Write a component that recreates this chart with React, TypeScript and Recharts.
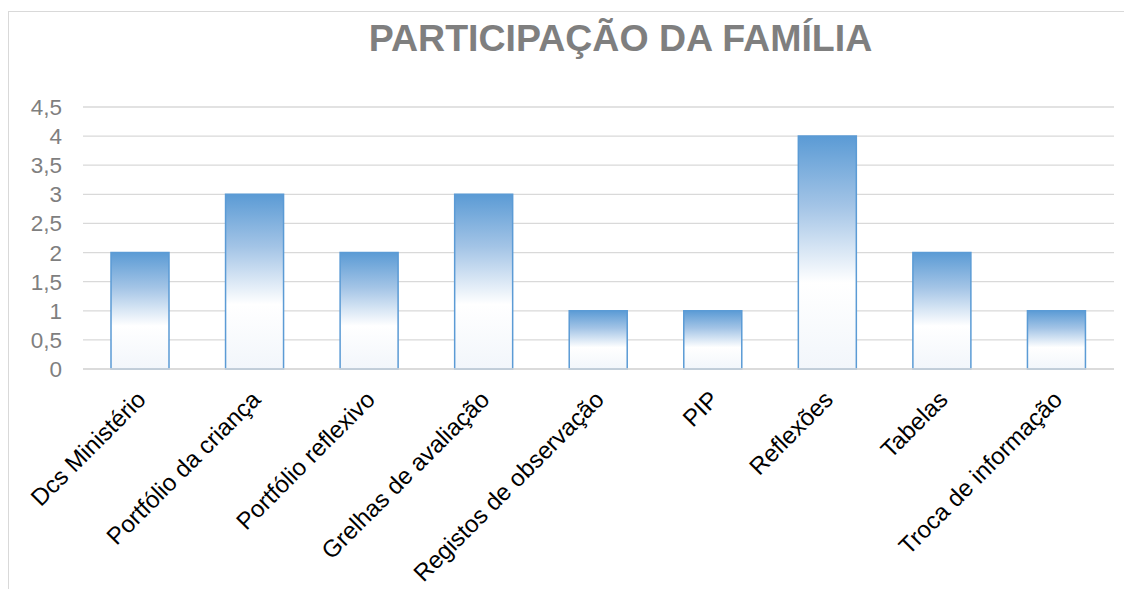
import React from "react";
import { BarChart, Bar, XAxis, YAxis, CartesianGrid } from "recharts";

const categories = [
  "Dcs Ministério",
  "Portfólio da criança",
  "Portfólio reflexivo",
  "Grelhas de avaliação",
  "Registos de observação",
  "PIP",
  "Reflexões",
  "Tabelas",
  "Troca de informação",
];
const values = [2, 3, 2, 3, 1, 1, 4, 2, 1];
const yTicks = [0, 0.5, 1, 1.5, 2, 2.5, 3, 3.5, 4, 4.5];
const title = "PARTICIPAÇÃO DA FAMÍLIA";

const data = categories.map((name, i) => ({ name, value: values[i] }));

const FONT = "'Liberation Sans', Arial, sans-serif";

function CategoryTick({ x, y, payload }: { x?: number; y?: number; payload?: { value: string } }) {
  return (
    <g transform={`translate(${(x ?? 0) + 7},${(y ?? 0) + 32}) rotate(-45)`}>
      <text x={0} y={0} textAnchor="end" fill="#000" fontSize={24} fontFamily={FONT}>
        {payload?.value}
      </text>
    </g>
  );
}

export default function App() {
  return (
    <div
      style={{
        position: "relative",
        margin: -8,
        width: 1132,
        height: 597,
        overflow: "hidden",
        background: "#fff",
      }}
    >
      <div
        style={{
          position: "absolute",
          left: 8,
          top: 11,
          width: 1200,
          height: 700,
          border: "1.3px solid #d9d9d9",
        }}
      />
      <svg width={1132} height={80} style={{ position: "absolute", left: 0, top: 0 }}>
        <text x={620.5} y={51} textAnchor="middle" fill="#7f7f7f" fontSize={37.5} fontWeight="bold" fontFamily={FONT}>
          {title}
        </text>
      </svg>
      <div style={{ position: "absolute", left: 0, top: 0 }}>
        <BarChart width={1132} height={597} data={data} margin={{ top: 107, right: 18, left: 0, bottom: 0 }}>
          <defs>
            <linearGradient id="barFill" x1="0" y1="0" x2="0" y2="1">
              <stop offset="0%" stopColor="#5b9bd5" />
              <stop offset="30%" stopColor="#a3c4e6" />
              <stop offset="63%" stopColor="#ffffff" />
              <stop offset="100%" stopColor="#f2f6fb" />
            </linearGradient>
          </defs>
          <CartesianGrid vertical={false} stroke="#d9d9d9" strokeWidth={1.3} />
          <XAxis
            dataKey="name"
            height={228}
            interval={0}
            tickLine={false}
            tickSize={0}
            tickMargin={0}
            axisLine={{ stroke: "#d9d9d9", strokeWidth: 1.3 }}
            tick={<CategoryTick />}
          />
          <YAxis
            width={83}
            domain={[0, 4.5]}
            ticks={yTicks}
            interval={0}
            axisLine={false}
            tickLine={false}
            tickSize={0}
            tickMargin={21}
            tick={{ fill: "#7f7f7f", fontSize: 22.5, fontFamily: FONT }}
            tickFormatter={(v: number) => String(v).replace(".", ",")}
          />
          <Bar
            dataKey="value"
            barSize={58}
            fill="url(#barFill)"
            stroke="#5b9bd5"
            strokeWidth={1.5}
            isAnimationActive={false}
          />
        </BarChart>
      </div>
    </div>
  );
}
